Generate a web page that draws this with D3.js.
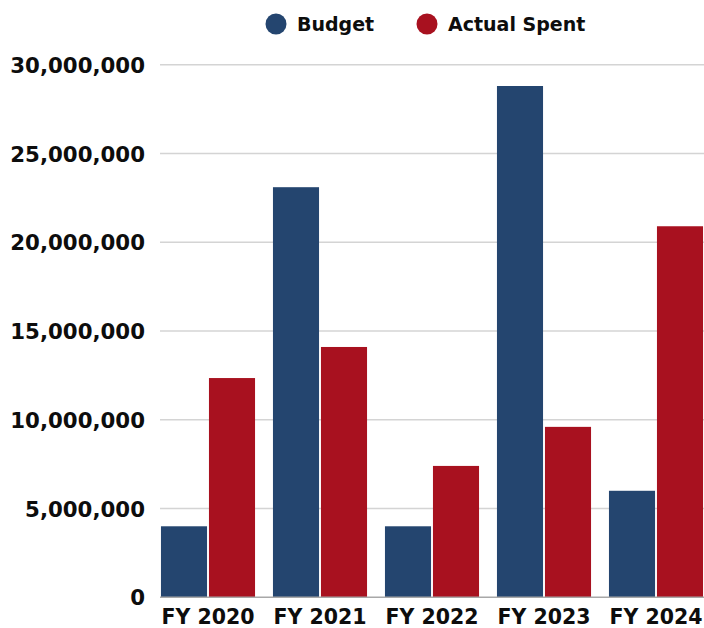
<!DOCTYPE html>
<html>
<head>
<meta charset="utf-8">
<script src="https://cdn.jsdelivr.net/npm/d3@7"></script>
<style>
  html, body { margin: 0; padding: 0; background: #fff; }
  svg { display: block; }
  text { font-family: "DejaVu Sans", sans-serif; font-weight: bold; fill: #0d0d0d; }
</style>
</head>
<body>
<svg id="chart" width="704" height="628"></svg>
<script>
// Fiscal years and yearly figures
const years = ["FY 2020", "FY 2021", "FY 2022", "FY 2023", "FY 2024"];
const budget = [4000000, 23100000, 4000000, 28800000, 6000000];
const actualSpent = [12350000, 14100000, 7400000, 9600000, 20900000];
const seriesNames = ["Budget", "Actual Spent"];
const seriesColors = ["#24456f", "#a8111f"];
const yTicks = [0, 5000000, 10000000, 15000000, 20000000, 25000000, 30000000];

const svg = d3.select("#chart");
const plotLeft = 160, plotRight = 704, plotTop = 64.7, plotBottom = 597.3;

const x = d3.scaleBand().domain(years).range([152, 712]).paddingInner(0.16).paddingOuter(0.08);
const xs = d3.scaleBand().domain(seriesNames).range([0, x.bandwidth()]).paddingInner(0.04);
const y = d3.scaleLinear().domain([0, 30000000]).range([plotBottom, plotTop]);
const color = d3.scaleOrdinal().domain(seriesNames).range(seriesColors);

// Horizontal gridlines
svg.append("g")
  .selectAll("line")
  .data(yTicks.filter(d => d > 0))
  .join("line")
  .attr("x1", plotLeft).attr("x2", plotRight)
  .attr("y1", d => y(d)).attr("y2", d => y(d))
  .attr("stroke", "#d4d4d4").attr("stroke-width", 1.5);

// Y axis labels
const yAxis = svg.append("g")
  .attr("transform", `translate(145,0)`)
  .call(d3.axisLeft(y).tickValues(yTicks).tickSize(0).tickPadding(0).tickFormat(d3.format(",")));
yAxis.select(".domain").remove();
yAxis.selectAll("text").attr("font-size", 21.3).attr("dy", "0.36em");

// Bars
const rows = years.map((yr, i) => ({ year: yr, values: [budget[i], actualSpent[i]] }));
svg.append("g")
  .selectAll("g")
  .data(rows)
  .join("g")
  .attr("transform", d => `translate(${x(d.year)},0)`)
  .selectAll("rect")
  .data(d => d.values.map((v, j) => ({ key: seriesNames[j], value: v })))
  .join("rect")
  .attr("x", d => xs(d.key))
  .attr("width", xs.bandwidth())
  .attr("y", d => y(d.value))
  .attr("height", d => y(0) - y(d.value))
  .attr("fill", d => color(d.key));

// Baseline
svg.append("line")
  .attr("x1", plotLeft).attr("x2", plotRight)
  .attr("y1", y(0)).attr("y2", y(0))
  .attr("stroke", "#a8a8a8").attr("stroke-width", 1.5);

// X axis labels
const xAxis = svg.append("g")
  .attr("transform", `translate(0,${plotBottom})`)
  .call(d3.axisBottom(x).tickSize(0).tickPadding(12));
xAxis.select(".domain").remove();
xAxis.selectAll("text").attr("font-size", 20.5).attr("dy", "0.72em");

// Legend
const legendX = [276, 427];
const legend = svg.append("g")
  .selectAll("g")
  .data(seriesNames)
  .join("g")
  .attr("transform", (d, i) => `translate(${legendX[i]},24)`);
legend.append("circle").attr("r", 10.5).attr("fill", d => color(d));
legend.append("text")
  .attr("x", 21).attr("dy", "0.36em")
  .attr("font-size", 19)
  .text(d => d);
</script>
</body>
</html>
